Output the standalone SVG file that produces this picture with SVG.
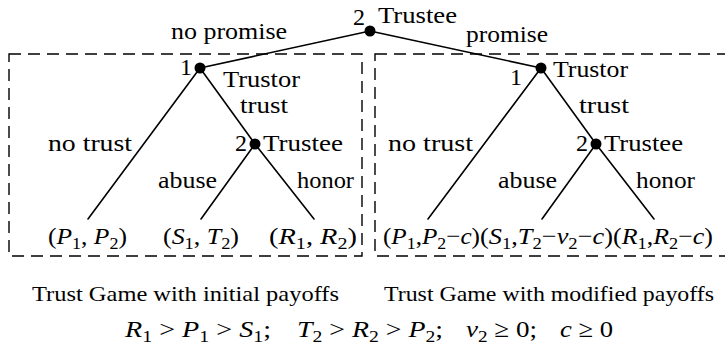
<svg xmlns="http://www.w3.org/2000/svg" width="725" height="353" viewBox="0 0 725 353">
  <style>
    .edge { stroke: #000; stroke-width: 1.6; fill: none; stroke-linecap: round; }
    .box { stroke: #000; stroke-width: 1.4; fill: none; stroke-dasharray: 12 7; }
    .dot { fill: #000; }
    .m { font-style: italic; }
  </style>
  <rect width="725" height="353" fill="#fff"/>

  <!-- dashed frames around the two subgames -->
  <g id="frames">
    <rect class="box" x="9" y="54" width="353" height="202"/>
    <rect class="box" x="375" y="54" width="362" height="202"/>
  </g>

  <g font-family="Liberation Serif, Times New Roman, Times, serif" font-size="24" fill="#000">
  <!-- branches -->
  <g id="connectors">
    <line class="edge" x1="370" y1="31" x2="200" y2="68"/>
    <line class="edge" x1="370" y1="31" x2="541" y2="68"/>
    <line class="edge" x1="200" y1="68" x2="88" y2="219"/>
    <line class="edge" x1="200" y1="68" x2="255" y2="144"/>
    <line class="edge" x1="255" y1="144" x2="201" y2="219"/>
    <line class="edge" x1="255" y1="144" x2="314" y2="219"/>
    <line class="edge" x1="541" y1="68" x2="428" y2="219"/>
    <line class="edge" x1="541" y1="68" x2="596" y2="144"/>
    <line class="edge" x1="596" y1="144" x2="542" y2="219"/>
    <line class="edge" x1="596" y1="144" x2="654" y2="219"/>
    <text x="171" y="39" textLength="116" lengthAdjust="spacingAndGlyphs">no promise</text>
    <text x="466" y="42" textLength="82" lengthAdjust="spacingAndGlyphs">promise</text>
    <text x="240" y="113" textLength="48" lengthAdjust="spacingAndGlyphs">trust</text>
    <text x="48" y="151" textLength="84" lengthAdjust="spacingAndGlyphs">no trust</text>
    <text x="158" y="188" textLength="59" lengthAdjust="spacingAndGlyphs">abuse</text>
    <text x="297" y="188" textLength="57" lengthAdjust="spacingAndGlyphs">honor</text>
    <text x="579" y="113" textLength="50" lengthAdjust="spacingAndGlyphs">trust</text>
    <text x="388" y="151" textLength="85" lengthAdjust="spacingAndGlyphs">no trust</text>
    <text x="498" y="188" textLength="59" lengthAdjust="spacingAndGlyphs">abuse</text>
    <text x="636" y="188" textLength="59" lengthAdjust="spacingAndGlyphs">honor</text>
  </g>

  <!-- decision nodes -->
  <g id="root">
    <circle class="dot" cx="370" cy="31" r="5.5"/>
    <text x="353" y="25">2</text>
    <text x="378" y="23" textLength="79" lengthAdjust="spacingAndGlyphs">Trustee</text>
  </g>
  <g id="trustor-initial">
    <circle class="dot" cx="200" cy="68" r="5.5"/>
    <text x="180" y="75">1</text>
    <text x="223" y="87" textLength="77" lengthAdjust="spacingAndGlyphs">Trustor</text>
  </g>
  <g id="trustee-initial">
    <circle class="dot" cx="255" cy="144" r="5.5"/>
    <text x="235" y="151">2</text>
    <text x="263" y="151" textLength="80" lengthAdjust="spacingAndGlyphs">Trustee</text>
  </g>
  <g id="trustor-modified">
    <circle class="dot" cx="541" cy="68" r="5.5"/>
    <text x="510" y="85">1</text>
    <text x="553" y="77" textLength="75" lengthAdjust="spacingAndGlyphs">Trustor</text>
  </g>
  <g id="trustee-modified">
    <circle class="dot" cx="596" cy="144" r="5.5"/>
    <text x="576" y="151">2</text>
    <text x="604" y="151" textLength="79" lengthAdjust="spacingAndGlyphs">Trustee</text>
  </g>

  <!-- terminal payoffs -->
  <g id="payoffs-initial">
    <text x="48" y="244" textLength="79" lengthAdjust="spacingAndGlyphs">(<tspan class="m">P</tspan><tspan font-size="17" dy="5">1</tspan><tspan dy="-5">, </tspan><tspan class="m">P</tspan><tspan font-size="17" dy="5">2</tspan><tspan dy="-5">)</tspan></text>
    <text x="163" y="244" textLength="76" lengthAdjust="spacingAndGlyphs">(<tspan class="m">S</tspan><tspan font-size="17" dy="5">1</tspan><tspan dy="-5">, </tspan><tspan class="m">T</tspan><tspan font-size="17" dy="5">2</tspan><tspan dy="-5">)</tspan></text>
    <text x="269" y="244" textLength="88" lengthAdjust="spacingAndGlyphs">(<tspan class="m">R</tspan><tspan font-size="17" dy="5">1</tspan><tspan dy="-5">, </tspan><tspan class="m">R</tspan><tspan font-size="17" dy="5">2</tspan><tspan dy="-5">)</tspan></text>
  </g>
  <g id="payoffs-modified">
    <text x="383" y="244" textLength="97" lengthAdjust="spacingAndGlyphs">(<tspan class="m">P</tspan><tspan font-size="17" dy="5">1</tspan><tspan dy="-5">,</tspan><tspan class="m">P</tspan><tspan font-size="17" dy="5">2</tspan><tspan dy="-5">−</tspan><tspan class="m">c</tspan>)</text>
    <text x="480" y="244" textLength="133" lengthAdjust="spacingAndGlyphs">(<tspan class="m">S</tspan><tspan font-size="17" dy="5">1</tspan><tspan dy="-5">,</tspan><tspan class="m">T</tspan><tspan font-size="17" dy="5">2</tspan><tspan dy="-5">−</tspan><tspan class="m">v</tspan><tspan font-size="17" dy="5">2</tspan><tspan dy="-5">−</tspan><tspan class="m">c</tspan>)</text>
    <text x="613" y="244" textLength="100" lengthAdjust="spacingAndGlyphs">(<tspan class="m">R</tspan><tspan font-size="17" dy="5">1</tspan><tspan dy="-5">,</tspan><tspan class="m">R</tspan><tspan font-size="17" dy="5">2</tspan><tspan dy="-5">−</tspan><tspan class="m">c</tspan>)</text>
  </g>

  <!-- captions -->
  <g id="captions" font-size="22">
    <text x="32" y="301" textLength="307" lengthAdjust="spacingAndGlyphs">Trust Game with initial payoffs</text>
    <text x="384" y="301" textLength="330" lengthAdjust="spacingAndGlyphs">Trust Game with modified payoffs</text>
  </g>

  <!-- payoff ordering conditions -->
  <g id="conditions">
    <text x="125" y="337" textLength="146" lengthAdjust="spacingAndGlyphs"><tspan class="m">R</tspan><tspan font-size="17" dy="5">1</tspan><tspan dy="-5"> &gt; </tspan><tspan class="m">P</tspan><tspan font-size="17" dy="5">1</tspan><tspan dy="-5"> &gt; </tspan><tspan class="m">S</tspan><tspan font-size="17" dy="5">1</tspan><tspan dy="-5">;</tspan></text>
    <text x="297" y="337" textLength="146" lengthAdjust="spacingAndGlyphs"><tspan class="m">T</tspan><tspan font-size="17" dy="5">2</tspan><tspan dy="-5"> &gt; </tspan><tspan class="m">R</tspan><tspan font-size="17" dy="5">2</tspan><tspan dy="-5"> &gt; </tspan><tspan class="m">P</tspan><tspan font-size="17" dy="5">2</tspan><tspan dy="-5">;</tspan></text>
    <text x="466" y="337" textLength="71" lengthAdjust="spacingAndGlyphs"><tspan class="m">v</tspan><tspan font-size="17" dy="5">2</tspan><tspan dy="-5"> ≥ 0;</tspan></text>
    <text x="560" y="337" textLength="53" lengthAdjust="spacingAndGlyphs"><tspan class="m">c</tspan> ≥ 0</text>
  </g>
  </g>
</svg>
